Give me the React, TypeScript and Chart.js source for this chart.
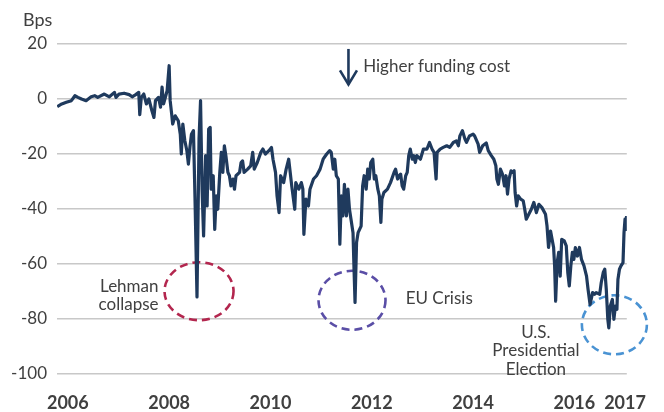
import React, { useEffect, useRef } from "react";
import { Chart, registerables } from "chart.js";

Chart.register(...registerables);

// ---- Data ----
const years: number[] = [
  2005.79, 2005.88, 2005.97, 2006.07, 2006.14, 2006.2, 2006.27, 2006.36, 2006.46, 2006.53,
  2006.59, 2006.72, 2006.82, 2006.92, 2006.95, 2007.01, 2007.11, 2007.21, 2007.27, 2007.34,
  2007.4, 2007.42, 2007.45, 2007.5, 2007.55, 2007.6, 2007.66, 2007.7, 2007.73, 2007.79,
  2007.83, 2007.86, 2007.89, 2007.96, 2008.0, 2008.02, 2008.05, 2008.07, 2008.12, 2008.18,
  2008.22, 2008.24, 2008.27, 2008.31, 2008.35, 2008.38, 2008.41, 2008.44, 2008.48, 2008.51,
  2008.55, 2008.59, 2008.62, 2008.65, 2008.68, 2008.72, 2008.75, 2008.78, 2008.81, 2008.83,
  2008.87, 2008.9, 2008.93, 2008.96, 2009.0, 2009.03, 2009.06, 2009.09, 2009.12, 2009.16,
  2009.19, 2009.22, 2009.26, 2009.29, 2009.32, 2009.39, 2009.42, 2009.45, 2009.48, 2009.55,
  2009.61, 2009.65, 2009.68, 2009.74, 2009.81, 2009.85, 2009.9, 2009.97, 2010.02, 2010.05,
  2010.1, 2010.13, 2010.17, 2010.2, 2010.26, 2010.31, 2010.36, 2010.39, 2010.42, 2010.48,
  2010.5, 2010.56, 2010.61, 2010.64, 2010.66, 2010.7, 2010.75, 2010.78, 2010.85, 2010.91,
  2010.98, 2011.04, 2011.11, 2011.17, 2011.2, 2011.24, 2011.27, 2011.3, 2011.34, 2011.37,
  2011.4, 2011.43, 2011.46, 2011.5, 2011.53, 2011.56, 2011.59, 2011.63, 2011.65, 2011.67,
  2011.7, 2011.73, 2011.76, 2011.79, 2011.82, 2011.85, 2011.89, 2011.92, 2011.95, 2011.98,
  2012.02, 2012.05, 2012.08, 2012.12, 2012.15, 2012.18, 2012.2, 2012.24, 2012.31, 2012.37,
  2012.44, 2012.47, 2012.51, 2012.54, 2012.57, 2012.6, 2012.63, 2012.67, 2012.7, 2012.73,
  2012.76, 2012.8, 2012.83, 2012.86, 2012.89, 2012.96, 2013.02, 2013.09, 2013.14, 2013.19,
  2013.23, 2013.27, 2013.29, 2013.35, 2013.41, 2013.48, 2013.54, 2013.61, 2013.67, 2013.71,
  2013.74, 2013.79, 2013.84, 2013.87, 2013.93, 2014.0, 2014.03, 2014.1, 2014.13, 2014.19,
  2014.26, 2014.3, 2014.36, 2014.41, 2014.45, 2014.47, 2014.5, 2014.54, 2014.58, 2014.62,
  2014.65, 2014.68, 2014.71, 2014.75, 2014.78, 2014.81, 2014.83, 2014.86, 2014.89, 2014.94,
  2014.99, 2015.02, 2015.05, 2015.1, 2015.15, 2015.2, 2015.25, 2015.3, 2015.36, 2015.43,
  2015.46, 2015.49, 2015.53, 2015.56, 2015.59, 2015.61, 2015.63, 2015.66, 2015.69, 2015.72,
  2015.75, 2015.8, 2015.84, 2015.87, 2015.9, 2015.93, 2015.96, 2015.99, 2016.02, 2016.06,
  2016.1, 2016.14, 2016.19, 2016.24, 2016.27, 2016.31, 2016.36, 2016.4, 2016.43, 2016.5,
  2016.53, 2016.57, 2016.6, 2016.63, 2016.66, 2016.68, 2016.71, 2016.75, 2016.78, 2016.81,
  2016.84, 2016.86, 2016.89, 2016.92, 2016.96, 2016.98, 2017.0, 2017.02, 2017.03,
];

const spreadBps: number[] = [
  -2.8, -1.8, -1.2, -0.6, 1.2, 0.6, 0, -0.6, 0.8, 1.2,
  0.6, 1.8, 0.8, 2.4, 0.6, 1.8, 2.1, 1.6, 0.8, 1.6,
  2.4, -5.7, 0.6, 1.8, -1.8, 0, -4.3, -6.7, -0.6, 0.6,
  -3.0, 4.3, -1.8, 3.0, 12.1, -0.6, -5.5, -9.1, -6.1, -7.9,
  -12.8, -20.0, -9.1, -15.2, -18.8, -23.7, -17.6, -12.8, -11.5, -35.8,
  -72.0, -14.6, -0.6, -32.8, -49.8, -20.6, -38.9, -10.9, -10.3, -32.8,
  -27.9, -47.4, -35.2, -40.1, -26.7, -19.4, -26.7, -17.0, -20.6, -26.7,
  -27.9, -31.6, -29.1, -32.8, -27.9, -26.7, -23.1, -22.5, -26.7, -25.5,
  -24.3, -19.4, -25.5, -23.1, -19.4, -18.2, -20.0, -18.8, -17.6, -21.9,
  -26.7, -35.2, -41.3, -27.9, -30.4, -25.5, -21.9, -26.7, -31.6, -40.1,
  -30.4, -32.8, -30.4, -32.8, -49.2, -36.4, -38.9, -32.8, -29.1, -27.9,
  -25.5, -21.9, -20.0, -18.8, -19.4, -25.5, -21.9, -27.9, -29.1, -52.8,
  -35.2, -42.5, -31.0, -42.5, -32.8, -40.1, -43.7, -48.6, -61.9, -74.0,
  -52.2, -48.6, -47.4, -46.2, -31.6, -27.9, -32.8, -25.5, -29.1, -23.1,
  -21.9, -29.1, -27.9, -32.8, -35.2, -44.9, -36.4, -34.0, -32.8, -30.4,
  -26.7, -25.5, -29.1, -27.9, -27.3, -31.6, -32.8, -27.9, -26.7, -20.6,
  -18.2, -21.9, -20.6, -23.1, -20.6, -21.9, -18.2, -18.2, -15.8, -18.2,
  -19.4, -29.1, -19.4, -18.2, -17.6, -17.0, -17.6, -15.8, -15.2, -17.0,
  -13.4, -11.5, -14.6, -15.8, -13.4, -12.8, -13.4, -16.4, -19.4, -17.0,
  -16.0, -18.8, -20.6, -21.9, -24.3, -29.1, -31.0, -25.5, -27.3, -31.6,
  -27.9, -34.6, -29.1, -26.1, -26.7, -26.1, -34.0, -38.9, -35.2, -36.4,
  -37.0, -40.1, -43.7, -41.9, -40.1, -37.6, -41.3, -38.3, -39.5, -41.9,
  -46.2, -54.0, -48.0, -51.0, -54.0, -60.7, -73.5, -59.5, -55.8, -64.4,
  -51.0, -51.6, -53.4, -63.1, -68.0, -60.7, -55.8, -58.3, -54.0, -57.1,
  -54.0, -58.3, -60.7, -64.4, -69.2, -74.7, -70.4, -71.0, -70.4, -71.0,
  -66.8, -63.1, -61.9, -69.2, -80.1, -83.2, -75.3, -72.9, -80.1, -75.3,
  -76.5, -65.6, -61.9, -60.7, -59.5, -48.6, -43.7, -47.4, -42.5,
];

const xTickYears: number[] = [2006, 2008, 2010, 2012, 2014, 2016, 2017];
const yTickValues: number[] = [-100, -80, -60, -40, -20, 0, 20];

// ---- Annotation config (positions in data units) ----
const circleNotes = [
  { x: 2008.59, y: -69.9, rx: 34.5, ry: 29, color: "#b3264e" },
  { x: 2011.61, y: -73.2, rx: 33.5, ry: 29.5, color: "#5a4ea6" },
  { x: 2016.79, y: -82.1, rx: 32.5, ry: 29.5, color: "#4a93d3" },
];

const textNotes = [
  { lines: ["Lehman", "collapse"], x: 2007.79, y: -70.0, align: "right" as CanvasTextAlign },
  { lines: ["EU Crisis"], x: 2012.67, y: -74.6, align: "left" as CanvasTextAlign },
  { lines: ["U.S.", "Presidential", "Election"], x: 2015.24, y: -86.8, align: "center" as CanvasTextAlign },
];

const FONT = 'Lato, "Open Sans", sans-serif';
const TEXT_COLOR = "#404040";
const LINE_COLOR = "#1f3a5d";

const annotationPlugin = {
  id: "notes",
  beforeDatasetsDraw(chart: any) {
    const { ctx, scales } = chart;
    const xs = scales.x;
    const ys = scales.y;
    ctx.save();
    circleNotes.forEach((c) => {
      ctx.beginPath();
      ctx.setLineDash([8, 5]);
      ctx.lineWidth = 2.6;
      ctx.strokeStyle = c.color;
      ctx.ellipse(xs.getPixelForValue(c.x), ys.getPixelForValue(c.y), c.rx, c.ry, 0, 0, Math.PI * 2);
      ctx.stroke();
    });
    ctx.setLineDash([]);
    ctx.fillStyle = TEXT_COLOR;
    ctx.font = `17px ${FONT}`;
    ctx.textBaseline = "alphabetic";
    textNotes.forEach((t) => {
      ctx.textAlign = t.align;
      const px = xs.getPixelForValue(t.x);
      const py = ys.getPixelForValue(t.y);
      t.lines.forEach((ln, i) => {
        ctx.fillText(ln, px, py + i * 18.5);
      });
    });
    ctx.restore();
  },
  afterDraw(chart: any) {
    const { ctx, scales } = chart;
    const xs = scales.x;
    const ys = scales.y;
    ctx.save();
    const ax = xs.getPixelForValue(2011.54);
    const aTop = ys.getPixelForValue(18.2);
    const aTip = ys.getPixelForValue(5.3);
    ctx.strokeStyle = LINE_COLOR;
    ctx.lineWidth = 2.6;
    ctx.lineCap = "butt";
    ctx.beginPath();
    ctx.moveTo(ax, aTop);
    ctx.lineTo(ax, aTip);
    ctx.stroke();
    ctx.beginPath();
    ctx.moveTo(ax - 8.5, aTip - 14);
    ctx.lineTo(ax, aTip);
    ctx.lineTo(ax + 8.5, aTip - 14);
    ctx.stroke();
    ctx.fillStyle = TEXT_COLOR;
    ctx.font = `17px ${FONT}`;
    ctx.textAlign = "left";
    ctx.textBaseline = "alphabetic";
    ctx.fillText("Higher funding cost", xs.getPixelForValue(2011.83), ys.getPixelForValue(9.7));
    ctx.font = `18px ${FONT}`;
    ctx.fillText("Bps", 23, 26);
    ctx.restore();
  },
};

export default function App() {
  const canvasRef = useRef<HTMLCanvasElement | null>(null);

  useEffect(() => {
    document.body.style.margin = "0";
    const canvas = canvasRef.current;
    if (!canvas) return;
    const points = years.map((x, i) => ({ x, y: spreadBps[i] }));
    const chart = new Chart(canvas, {
      type: "line",
      data: {
        datasets: [
          {
            data: points,
            borderColor: LINE_COLOR,
            borderWidth: 3.2,
            pointRadius: 0,
            tension: 0,
            fill: false,
            borderJoinStyle: "round",
          } as any,
        ],
      },
      options: {
        responsive: false,
        animation: false,
        devicePixelRatio: 1,
        layout: { padding: { top: 44, right: 30, left: 0, bottom: 0 } },
        plugins: {
          legend: { display: false },
          tooltip: { enabled: false },
        },
        scales: {
          x: {
            type: "linear",
            min: 2005.786,
            max: 2017.035,
            grid: { display: false, drawTicks: false },
            border: { display: false },
            afterBuildTicks: (scale: any) => {
              scale.ticks = xTickYears.map((v) => ({ value: v }));
            },
            afterFit: (scale: any) => {
              scale.height = 38;
            },
            ticks: {
              autoSkip: false,
              maxRotation: 0,
              padding: 18,
              color: TEXT_COLOR,
              font: { family: FONT, size: 18, weight: "bold" },
              callback: (v: any) => String(v),
            },
          },
          y: {
            min: -100,
            max: 20,
            afterBuildTicks: (scale: any) => {
              scale.ticks = yTickValues.map((v) => ({ value: v }));
            },
            afterFit: (scale: any) => {
              scale.width = 57;
            },
            grid: { color: "#c8c8c8", lineWidth: 1.5, drawTicks: false },
            border: { display: false },
            ticks: {
              padding: 10,
              color: TEXT_COLOR,
              font: { family: FONT, size: 17 },
              callback: (v: any) => String(v),
            },
          },
        },
      },
      plugins: [annotationPlugin],
    });
    return () => chart.destroy();
  }, []);

  return (
    <div style={{ width: 664, height: 412, position: "relative", background: "#fff" }}>
      <canvas ref={canvasRef} width={664} height={412} style={{ display: "block" }} />
    </div>
  );
}
